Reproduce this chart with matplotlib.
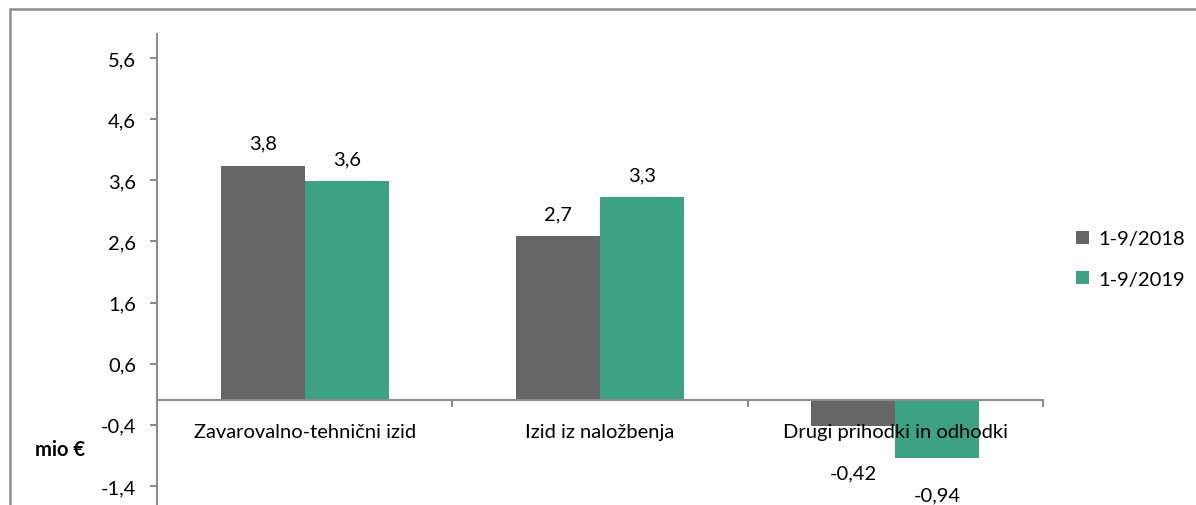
import matplotlib as mpl
mpl.use('Agg')
from matplotlib import pyplot as plt
from matplotlib.patches import Rectangle
from matplotlib.ticker import FuncFormatter, FixedLocator
import numpy as np

plt.rcParams['font.family'] = ['Lato', 'DejaVu Sans']

categories = ['Zavarovalno-tehnični izid', 'Izid iz naložbenja', 'Drugi prihodki in odhodki']
series_names = ['1-9/2018', '1-9/2019']
vals_2018 = [3.84, 2.68, -0.42]
vals_2019 = [3.59, 3.32, -0.94]
labels_2018 = ['3,8', '2,7', '-0,42']
labels_2019 = ['3,6', '3,3', '-0,94']
yticks = [-1.4, -0.4, 0.6, 1.6, 2.6, 3.6, 4.6, 5.6]

c_gray = '#666666'
c_green = '#3DA283'
c_axis = '#8C8C8C'
fs = 14.5

W, H = 1196, 506
fig = plt.figure(figsize=(W / 100, H / 100), dpi=100)

# axes: x from 157 to 1043 px, value 6.0 at y=34.5 px, 61.14 px per unit
ymin, ymax = -2.4, 6.0
ppu = 61.14
top = 1 - 34.5 / H
height = (ymax - ymin) * ppu / H
ax = fig.add_axes([157 / W, top - height, 886 / W, height])

x = np.arange(len(categories))
bw = 84 / 295.3
b1 = ax.bar(x - bw / 2, vals_2018, bw, color=c_gray, label=series_names[0], zorder=2)
b2 = ax.bar(x + bw / 2, vals_2019, bw, color=c_green, label=series_names[1], zorder=2)

ax.set_xlim(-0.5, 2.5)
ax.set_ylim(ymin, ymax)

for s in ['top', 'right']:
    ax.spines[s].set_visible(False)
ax.spines['left'].set_color(c_axis)
ax.spines['left'].set_linewidth(1.5)
ax.spines['bottom'].set_position(('data', 0))
ax.spines['bottom'].set_color(c_axis)
ax.spines['bottom'].set_linewidth(1.5)
ax.spines['bottom'].set_zorder(3)

ax.set_yticks(yticks)
ax.yaxis.set_major_formatter(FuncFormatter(lambda v, p: ('%.1f' % v).replace('.', ',')))
ax.tick_params(axis='y', direction='out', length=5, width=1.5, color=c_axis,
               labelsize=fs, pad=10, labelcolor='#000000')

ax.set_xticks(x)
ax.set_xticklabels(categories)
ax.xaxis.set_minor_locator(FixedLocator([0.5, 1.5, 2.5]))
ax.tick_params(axis='x', which='major', length=0, labelsize=fs, pad=16)
ax.tick_params(axis='x', which='minor', direction='out', length=5, width=1.5, color=c_axis)
ax.xaxis.set_zorder(5)  # category labels drawn over the negative bars

# value labels
off_2018 = [16, 16, -34]
off_2019 = [16, 16, -27]
for bars, labs, offs in [(b1, labels_2018, off_2018), (b2, labels_2019, off_2019)]:
    for r, lab, o in zip(bars, labs, offs):
        yv = r.get_y() + r.get_height()
        ax.annotate(lab, (r.get_x() + r.get_width() / 2, yv), xytext=(0, o),
                    textcoords='offset points', ha='center', va='center', fontsize=fs,
                    annotation_clip=False)

fig.legend(handles=[b1, b2], labels=series_names, loc='center left',
           bbox_to_anchor=(1058 / W, 1 - 260 / H), frameon=False, fontsize=fs,
           handlelength=0.65, handleheight=0.65, handletextpad=0.45, labelspacing=1.15)

fig.text(35 / W, 1 - 450 / H, 'mio €', fontsize=fs, fontweight='bold', va='center', ha='left')

frame = Rectangle((10 / W, -0.5), 2, 1 - 10 / H + 0.5, transform=fig.transFigure,
                  fill=False, edgecolor=c_axis, linewidth=1.8, zorder=10)
fig.patches.append(frame)

fig.savefig('out.png', dpi=100)
